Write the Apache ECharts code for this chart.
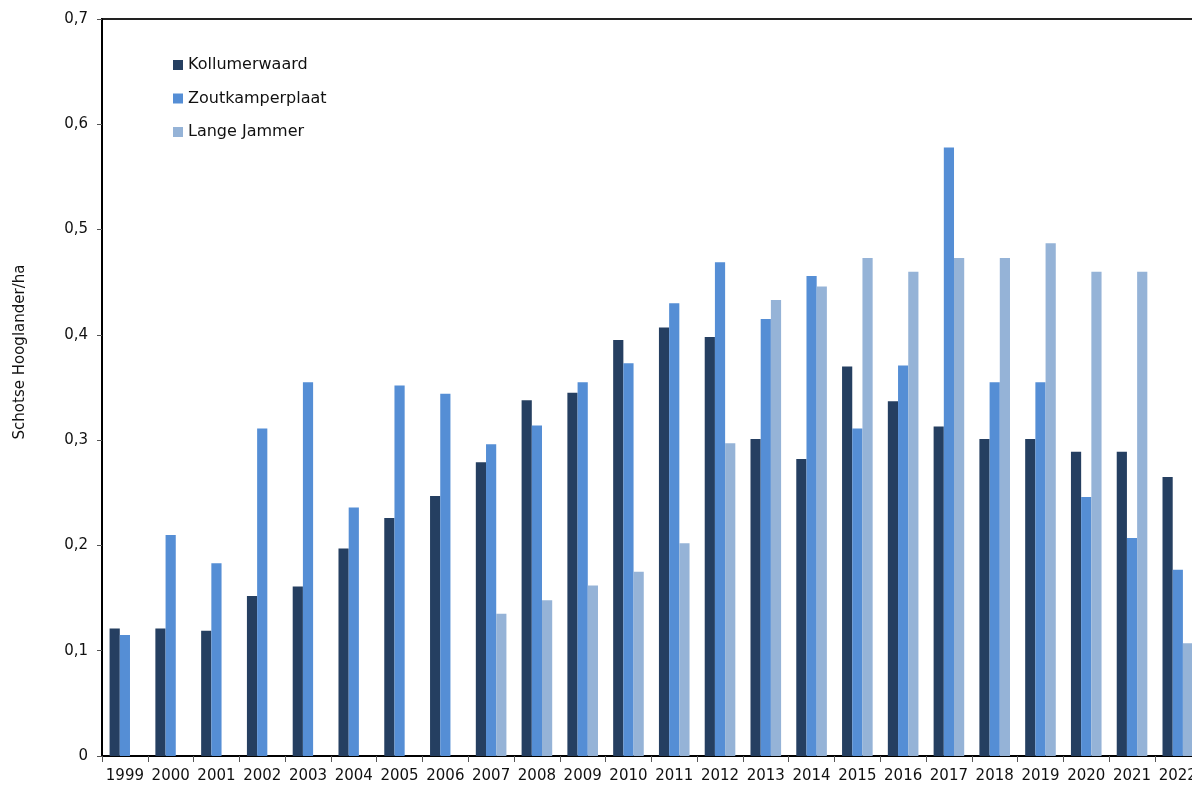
<!DOCTYPE html>
<html>
<head>
<meta charset="utf-8">
<script src="https://cdn.jsdelivr.net/npm/echarts@6/dist/echarts.min.js"></script>
<style>
html,body{margin:0;padding:0;background:#fff;}
#chart{width:1192px;height:787px;}
</style>
</head>
<body>
<div id="chart"></div>
<script>
const years = ['1999','2000','2001','2002','2003','2004','2005','2006','2007','2008','2009','2010','2011','2012','2013','2014','2015','2016','2017','2018','2019','2020','2021','2022'];
const kollumerwaard = [0.121,0.121,0.119,0.152,0.161,0.197,0.226,0.247,0.279,0.338,0.345,0.395,0.407,0.398,0.301,0.282,0.370,0.337,0.313,0.301,0.301,0.289,0.289,0.265];
const zoutkamperplaat = [0.115,0.210,0.183,0.311,0.355,0.236,0.352,0.344,0.296,0.314,0.355,0.373,0.430,0.469,0.415,0.456,0.311,0.371,0.578,0.355,0.355,0.246,0.207,0.177];
const langeJammer = [null,null,null,null,null,null,null,null,0.135,0.148,0.162,0.175,0.202,0.297,0.433,0.446,0.473,0.460,0.473,0.473,0.487,0.460,0.460,0.107];
const seriesNames = ['Kollumerwaard','Zoutkamperplaat','Lange Jammer'];
const yTitle = 'Schotse Hooglander/ha';

const FONT = 'DejaVu Sans';
const colors = ['#253F61','#558ED5','#95B3D7'];

const chart = echarts.init(document.getElementById('chart'));
function bar(name, data, color){
  return {
    name: name, type: 'bar', data: data,
    barWidth: 10.2, barGap: '0%',
    itemStyle: {color: color},
    emphasis: {disabled: true}
  };
}
chart.setOption({
  animation: false,
  backgroundColor: '#fff',
  color: colors,
  grid: {left: 102, top: 19, width: 1098.7, height: 737, outerBoundsMode: 'none', containLabel: false,
    show: true, borderColor: '#222', borderWidth: 2, backgroundColor: 'transparent'},
  legend: {
    orient: 'vertical', left: 168, top: 52, itemWidth: 10, itemHeight: 10, itemGap: 17.5,
    icon: 'rect',
    textStyle: {fontFamily: FONT, fontSize: 16, color: '#111', lineHeight: 16},
    data: seriesNames
  },
  graphic: [{
    type: 'text', x: 20, y: 352, rotation: Math.PI/2,
    style: {text: yTitle, fontFamily: FONT, fontSize: 15, fill: '#111', textAlign: 'center', textVerticalAlign: 'middle'}
  }],
  xAxis: {
    type: 'category', data: years,
    axisLine: {lineStyle: {color: '#000', width: 2}},
    axisTick: {show: true, length: 6, lineStyle: {color: '#555'}},
    axisLabel: {fontFamily: FONT, fontSize: 15, color: '#111', margin: 13, interval: 0}
  },
  yAxis: {
    type: 'value', min: 0, max: 0.7, interval: 0.1,
    splitLine: {show: false},
    axisLine: {show: true, lineStyle: {color: '#000', width: 2}},
    axisTick: {show: true, length: 5, lineStyle: {color: '#555'}},
    axisLabel: {fontFamily: FONT, fontSize: 15, color: '#111', margin: 14,
      formatter: v => (Math.round(v*10)/10).toString().replace('.', ',')}
  },
  series: [
    bar(seriesNames[0], kollumerwaard, colors[0]),
    bar(seriesNames[1], zoutkamperplaat, colors[1]),
    bar(seriesNames[2], langeJammer, colors[2])
  ]
});
</script>
</body>
</html>
